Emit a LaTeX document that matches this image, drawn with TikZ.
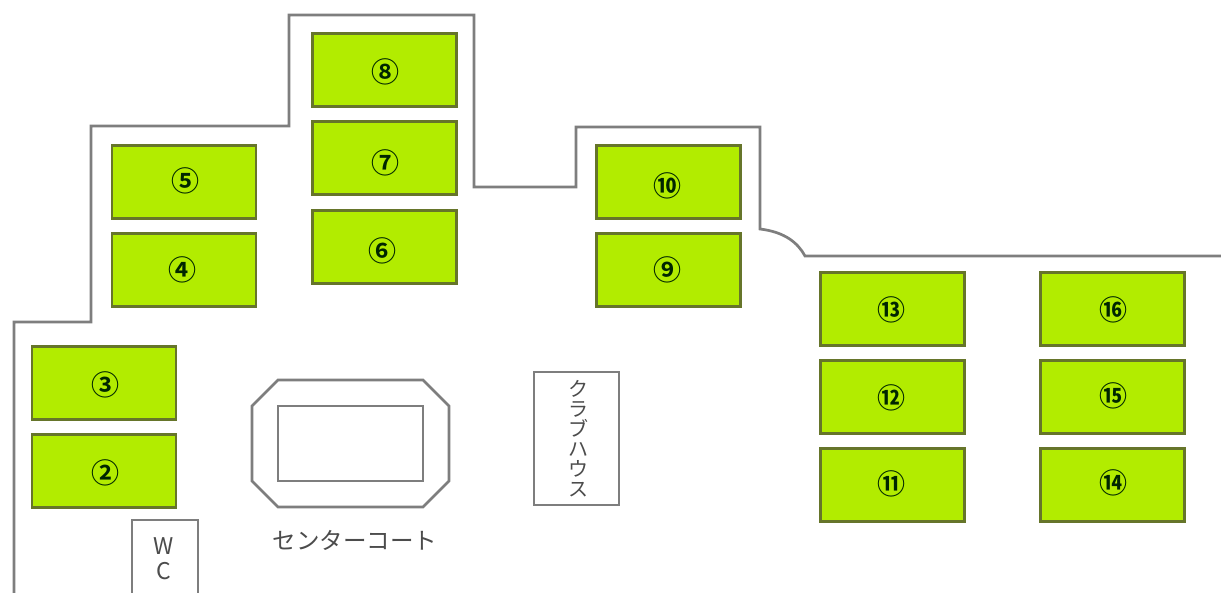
\documentclass[tikz,border=0pt]{standalone}
\usepackage{fontspec}
\setmainfont{Open Sans}
\newfontfamily\jp{Noto Sans CJK JP}
\newfontfamily\jpb{Noto Sans CJK JP Bold}
\definecolor{courtgreen}{HTML}{B2EC00}
\definecolor{courtedge}{HTML}{66752A}
\definecolor{wallgrey}{HTML}{7E7E7E}
\tikzset{
  court/.style={draw=courtedge,line width=2.2pt,fill=courtgreen,minimum width=144pt,minimum height=73pt,inner sep=0pt},
  num/.style={inner sep=0pt,font=\jpb\fontsize{28}{28}\selectfont,text=black!85!green},
  wall/.style={draw=wallgrey,line width=2.7pt,line join=miter},
  facility/.style={draw=wallgrey,line width=2.7pt,fill=white,inner sep=0pt},
  lbl/.style={text=black!70,inner sep=0pt,align=center}
}
\begin{document}
\begin{tikzpicture}[x=1pt,y=-1pt]
\useasboundingbox (0,0) rectangle (1221,593);
\fill[white] (0,0) rectangle (1221,593);
% outer wall
\draw[wall] (14,596) -- (14,322) -- (91,322) -- (91,126) -- (289,126) -- (289,15) -- (474,15) -- (474,187) -- (576,187) -- (576,127) -- (760,127) -- (760,229) .. controls (785,232) and (798,243) .. (805,256) -- (1224,256);
% courts
\node[court] (c8) at (384.5,70) {};
\node[court] (c7) at (384.5,158) {};
\node[court] (c6) at (384.5,247) {};
\node[court] (c5) at (184,182) {};
\node[court] (c4) at (184,270) {};
\node[court] (c3) at (104,383) {};
\node[court] (c2) at (104,471) {};
\node[court] (c10) at (668.5,182) {};
\node[court] (c9) at (668.5,270) {};
\node[court] (c13) at (892.5,309) {};
\node[court] (c12) at (892.5,397) {};
\node[court] (c11) at (892.5,485) {};
\node[court] (c16) at (1112.5,309) {};
\node[court] (c15) at (1112.5,397) {};
\node[court] (c14) at (1112.5,485) {};
\node[num] (n8) at (385,72) {⑧};
\node[num] (n7) at (385.5,163) {⑦};
\node[num] (n6) at (382.5,251) {⑥};
\node[num] (n5) at (185,181) {⑤};
\node[num] (n4) at (182.5,270) {④};
\node[num] (n3) at (105,384.5) {③};
\node[num] (n2) at (105,472.5) {②};
\node[num] (n10) at (667.5,186) {⑩};
\node[num] (n9) at (667.5,270) {⑨};
\node[num] (n13) at (891.5,310) {⑬};
\node[num] (n12) at (891.5,398) {⑫};
\node[num] (n11) at (891.5,484) {⑪};
\node[num] (n16) at (1113,310) {⑯};
\node[num] (n15) at (1113,396) {⑮};
\node[num] (n14) at (1113,483) {⑭};
% centre court
\draw[wall] (278,380) -- (423,380) -- (449,406) -- (449,481) -- (423,507) -- (278,507) -- (252,481) -- (252,406) -- cycle;
\draw[wall] (278,406) rectangle (423,481);
\node[lbl,font=\jp\fontsize{23.5}{24}\selectfont] (cc) at (355,540) {センターコート};
% club house
\node[facility,minimum width=85pt,minimum height=133pt] (club) at (576.5,438.5) {};
\node[lbl,font=\jp\fontsize{20}{20}\selectfont] (clubt) at (578,438.5) {ク\\ラ\\ブ\\ハ\\ウ\\ス};
% WC
\draw[facility] (132,596) -- (132,520) -- (198,520) -- (198,596);
\node[lbl,font=\jp\fontsize{23}{25}\selectfont] (wc) at (164,559) {W\\C};
\end{tikzpicture}
\end{document}
